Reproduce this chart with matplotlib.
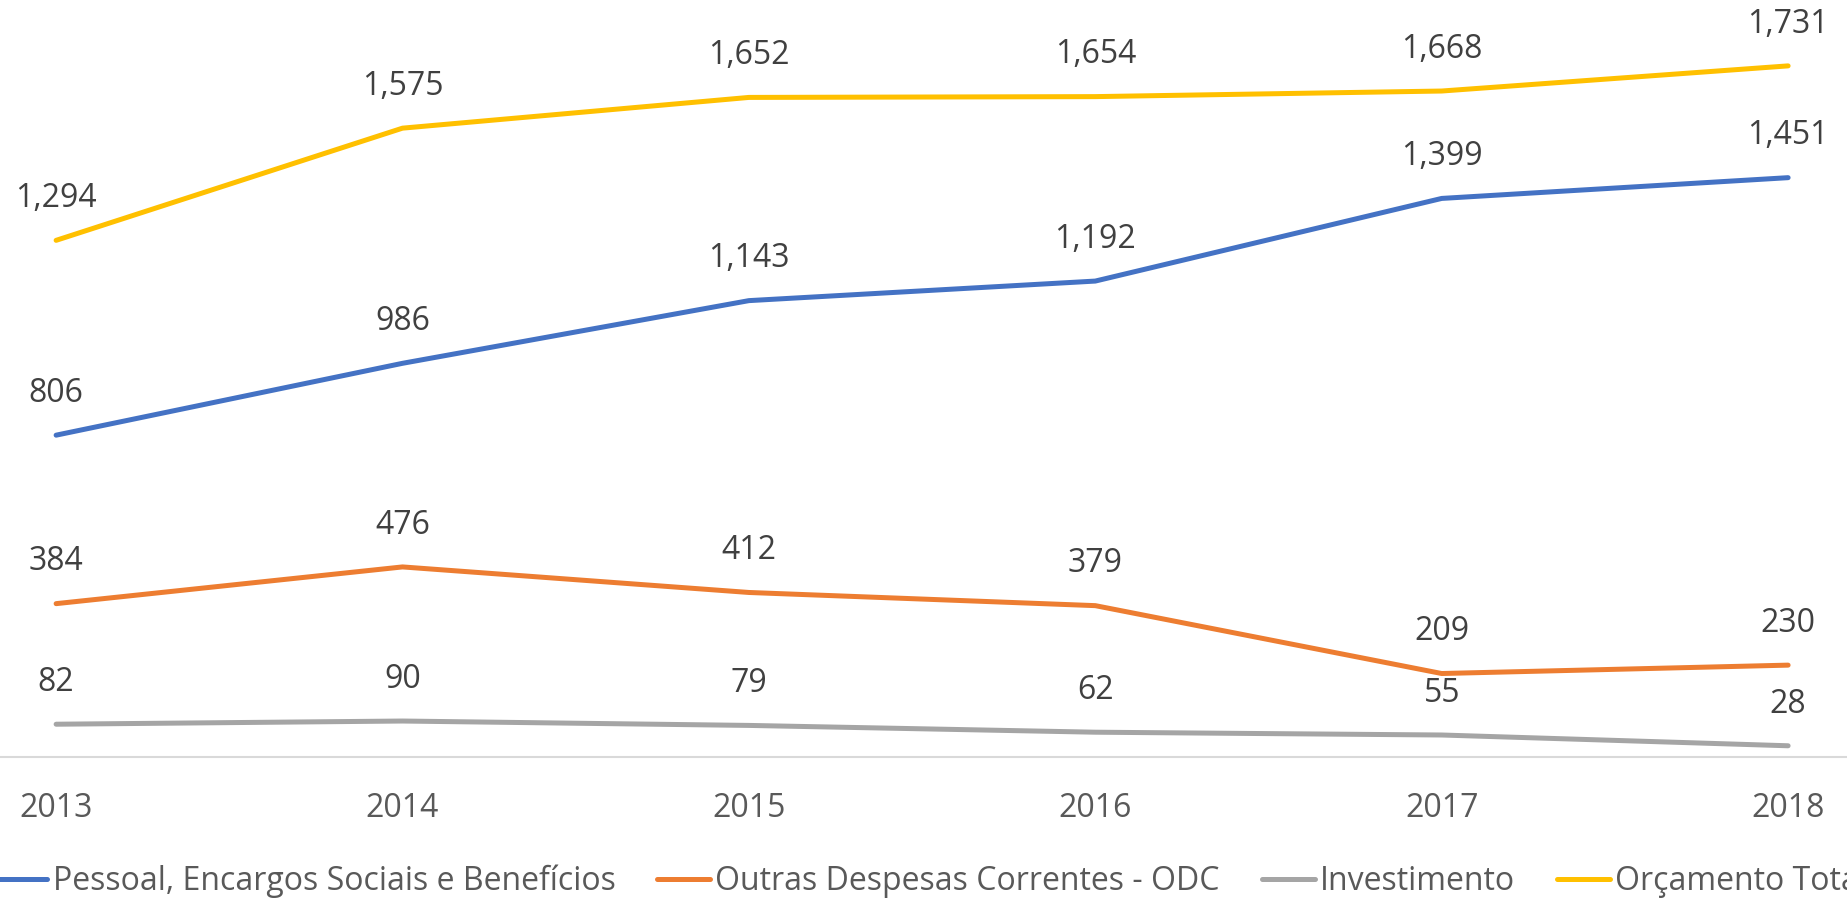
import matplotlib
matplotlib.use("Agg")
import matplotlib.pyplot as plt

years = [2013, 2014, 2015, 2016, 2017, 2018]
pessoal = [806, 986, 1143, 1192, 1399, 1451]
odc = [384, 476, 412, 379, 209, 230]
investimento = [82, 90, 79, 62, 55, 28]
total = [1294, 1575, 1652, 1654, 1668, 1731]

series = [
    ("Pessoal, Encargos Sociais e Benefícios", pessoal, "#4472C4"),
    ("Outras Despesas Correntes - ODC", odc, "#ED7D31"),
    ("Investimento", investimento, "#A5A5A5"),
    ("Orçamento Total", total, "#FFC000"),
]

plt.rcParams['font.family'] = ['Open Sans', 'DejaVu Sans']

fig = plt.figure(figsize=(18.47, 8.99), dpi=100)
ax = fig.add_axes([0, 0.158, 1, 0.842])

for name, vals, col in series:
    ax.plot(years, vals, color=col, lw=3.6, solid_capstyle='round',
            solid_joinstyle='round', label=name)
    for x, v in zip(years, vals):
        ax.annotate(f"{v:,}", (x, v), xytext=(0, 30), textcoords='offset points',
                    ha='center', va='center', fontsize=23, color='#404040',
                    annotation_clip=False)

ax.set_xlim(2012.838, 2018.170)
ax.set_ylim(0, 1896)
ax.set_xticks(years)
ax.set_xticklabels([str(y) for y in years])
ax.set_yticks([])
ax.tick_params(axis='x', length=0, pad=25, labelsize=23, labelcolor='#595959')
for s in ['top', 'right', 'left']:
    ax.spines[s].set_visible(False)
ax.spines['bottom'].set_color('#D9D9D9')
ax.spines['bottom'].set_linewidth(1.5)

fig.legend(loc='center left', bbox_to_anchor=(-0.003, 0.0195), ncol=4, frameon=False,
           fontsize=23, labelcolor='#595959', handlelength=1.66, handletextpad=0.16,
           columnspacing=1.31, borderpad=0, borderaxespad=0)

fig.savefig("out.png", dpi=100)
